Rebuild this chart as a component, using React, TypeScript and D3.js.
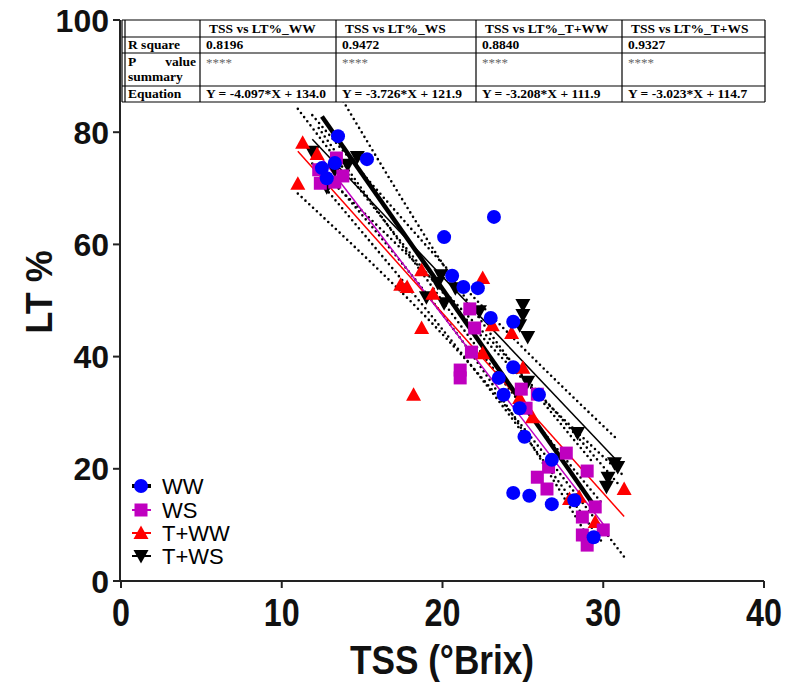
import React from 'react';
import * as d3 from 'd3';

// ---- data ----
const wwX = [13.5, 15.3, 12.5, 13.3, 12.8, 23.2, 20.1, 20.6, 21.3, 22.2, 23.0, 24.4, 24.4, 23.5, 23.8, 26.0, 24.8, 25.1, 26.8, 24.4, 25.4, 26.8, 28.2, 29.4];
const wwY = [79.3, 75.2, 73.6, 74.5, 71.8, 64.9, 61.3, 54.4, 52.4, 52.2, 46.9, 46.2, 38.1, 36.2, 33.2, 33.2, 30.8, 25.7, 21.6, 15.7, 15.2, 13.7, 14.4, 7.8];
const wsX = [13.4, 12.3, 13.8, 12.4, 13.3, 21.7, 22.0, 21.8, 21.1, 21.1, 24.9, 25.9, 25.2, 27.7, 26.6, 29.0, 25.9, 26.5, 29.5, 28.7, 30.0, 28.7, 29.0];
const wsY = [75.4, 73.3, 72.2, 70.9, 71.1, 48.5, 45.1, 40.8, 37.6, 36.2, 34.2, 33.3, 30.8, 22.8, 20.3, 19.6, 18.5, 16.4, 13.2, 11.4, 9.1, 8.2, 6.4];
const twwX = [11.3, 12.2, 11.0, 18.7, 17.4, 17.8, 19.4, 22.5, 18.7, 18.2, 23.1, 24.3, 22.5, 25.0, 24.8, 25.6, 27.9, 28.5, 29.5, 31.3];
const twwY = [78.1, 76.1, 70.8, 55.4, 52.8, 52.4, 51.2, 54.0, 45.1, 33.2, 45.6, 44.2, 40.6, 38.0, 32.6, 29.2, 14.6, 15.0, 10.5, 16.4];
const twsX = [11.9, 14.7, 14.1, 13.3, 12.8, 19.9, 19.7, 20.8, 19.0, 20.1, 22.3, 25.0, 25.0, 24.8, 25.3, 25.3, 28.4, 30.7, 30.9, 30.3, 30.2];
const twsY = [76.5, 75.6, 74.2, 73.3, 70.2, 54.5, 53.1, 52.2, 50.6, 49.5, 48.1, 49.2, 47.4, 45.6, 43.5, 35.5, 26.4, 21.0, 20.3, 18.4, 16.8];

const seriesNames = ['WW', 'WS', 'T+WW', 'T+WS'];
const slopes = [-4.097, -3.726, -3.208, -3.023];
const intercepts = [134.0, 121.9, 111.9, 114.7];
const rSquares = ['0.8196', '0.9472', '0.8840', '0.9327'];
const pSummaries = ['****', '****', '****', '****'];
const equations = ['Y = -4.097*X + 134.0', 'Y = -3.726*X + 121.9', 'Y = -3.208*X + 111.9', 'Y = -3.023*X + 114.7'];
const tableHeaders = ['TSS vs LT%_WW', 'TSS vs LT%_WS', 'TSS vs LT%_T+WW', 'TSS vs LT%_T+WS'];

const xTicks = [0, 10, 20, 30, 40];
const yTicks = [0, 20, 40, 60, 80, 100];

const xs = [wwX, wsX, twwX, twsX];
const ys = [wwY, wsY, twwY, twsY];
const colors = ['#0000FF', '#BF00BF', '#FF0000', '#000000'];
const lineColors = ['#000000', '#BF00BF', '#FF0000', '#000000'];
const lineWidths = [4.5, 1.5, 1.5, 1.5];

const W = 787, H = 682;
const x = d3.scaleLinear().domain([0, 40]).range([121, 764]);
const y = d3.scaleLinear().domain([0, 100]).range([581, 20]);

function marker(i: number, cx: number, cy: number, key: any) {
  if (i === 0) return <circle key={key} cx={cx} cy={cy} r={7} fill={colors[0]} />;
  if (i === 1) return <rect key={key} x={cx - 6.5} y={cy - 6.5} width={13} height={13} fill={colors[1]} />;
  if (i === 2) {
    const s = 7.5;
    return <path key={key} d={`M${cx},${cy - s}L${cx + s},${cy + s * 0.8}L${cx - s},${cy + s * 0.8}Z`} fill={colors[2]} />;
  }
  const s = 7.5;
  return <path key={key} d={`M${cx},${cy + s}L${cx + s},${cy - s * 0.8}L${cx - s},${cy - s * 0.8}Z`} fill={colors[3]} />;
}

function bands(i: number) {
  const X = xs[i], Y = ys[i];
  const n = X.length;
  const m = d3.mean(X) as number;
  const sxx = d3.sum(X, (v) => (v - m) * (v - m));
  const ssr = d3.sum(X, (v, k) => {
    const r = Y[k] - (slopes[i] * v + intercepts[i]);
    return r * r;
  });
  const s = Math.sqrt(ssr / (n - 2));
  const t = 2.07;
  const [x0, x1] = d3.extent(X) as [number, number];
  const pts = d3.range(0, 41).map((k) => x0 + ((x1 - x0) * k) / 40);
  const half = (v: number) => t * s * Math.sqrt(1 / n + ((v - m) * (v - m)) / sxx);
  const up = d3.line<number>().x((v) => x(v)).y((v) => y(slopes[i] * v + intercepts[i] + half(v)))(pts);
  const lo = d3.line<number>().x((v) => x(v)).y((v) => y(slopes[i] * v + intercepts[i] - half(v)))(pts);
  return { up, lo, x0, x1 };
}

export default function App() {
  const colEdges = [122, 200, 336, 476, 622, 765];
  const rowEdges = [20, 37, 53, 86, 102];
  const serif = '"Liberation Serif", "Times New Roman", serif';
  const sans = '"Liberation Sans", Arial, sans-serif';
  const drawOrder = [3, 2, 1, 0];
  return (
    <svg width={W} height={H} style={{ position: 'absolute', left: 0, top: 0, background: '#fff' }}>
      <rect width={W} height={H} fill="#fff" />
      {/* regression bands */}
      {[0, 1, 2, 3].map((i) => {
        const b = bands(i);
        return (
          <g key={'b' + i}>
            <path d={b.up as string} fill="none" stroke="#000" strokeWidth={2.6} strokeDasharray="0,5.2" strokeLinecap="round" />
            <path d={b.lo as string} fill="none" stroke="#000" strokeWidth={2.6} strokeDasharray="0,5.2" strokeLinecap="round" />
          </g>
        );
      })}
      {[3, 2, 1, 0].map((i) => {
        const b = bands(i);
        return (
          <line key={'l' + i} x1={x(b.x0)} y1={y(slopes[i] * b.x0 + intercepts[i])} x2={x(b.x1)} y2={y(slopes[i] * b.x1 + intercepts[i])}
            stroke={lineColors[i]} strokeWidth={lineWidths[i]} />
        );
      })}
      {/* points */}
      {drawOrder.map((i) => (
        <g key={'p' + i}>{xs[i].map((v, k) => marker(i, x(v), y(ys[i][k]), k))}</g>
      ))}
      {/* axes */}
      <line x1={120} y1={y(100)} x2={120} y2={582} stroke="#222" strokeWidth={2} />
      <line x1={119} y1={581} x2={x(40)} y2={581} stroke="#222" strokeWidth={2} />
      {yTicks.map((t) => (
        <g key={'yt' + t}>
          <line x1={113} x2={120} y1={y(t)} y2={y(t)} stroke="#222" strokeWidth={2} />
          <text x={109} y={y(t)} dy="0.36em" textAnchor="end" fontFamily={sans} fontWeight="bold" fontSize={32} fill="#111">{t}</text>
        </g>
      ))}
      {xTicks.map((t) => (
        <g key={'xt' + t}>
          <line x1={x(t)} x2={x(t)} y1={581} y2={588} stroke="#222" strokeWidth={2} />
          <text transform={`translate(${x(t)},626) scale(0.85,1)`} textAnchor="middle" fontFamily={sans} fontWeight="bold" fontSize={38} fill="#111">{t}</text>
        </g>
      ))}
      <text transform="translate(442,674) scale(0.88,1)" textAnchor="middle" fontFamily={sans} fontWeight="bold" fontSize={40} fill="#111">TSS (°Brix)</text>
      <text transform="translate(52,292) rotate(-90)" textAnchor="middle" fontFamily={sans} fontWeight="bold" fontSize={36} fill="#111">LT %</text>
      {/* legend */}
      {seriesNames.map((nm, i) => {
        const ly = [486, 510, 533, 556][i];
        return (
          <g key={'lg' + i}>
            <line x1={132} x2={151} y1={ly} y2={ly} stroke={lineColors[i]} strokeWidth={i === 0 ? 4 : 2} />
            {marker(i, 141, ly, 'm')}
            <text x={162} y={ly} dy="0.36em" fontFamily={sans} fontSize={22} fill="#000">{nm}</text>
          </g>
        );
      })}
      {/* table */}
      <g>
        <rect x={colEdges[0]} y={rowEdges[0]} width={colEdges[5] - colEdges[0]} height={rowEdges[4] - rowEdges[0]} fill="#fff" />
        {rowEdges.map((ry, k) => (
          <line key={'tr' + k} x1={colEdges[0]} x2={colEdges[5]} y1={ry} y2={ry} stroke="#000" strokeWidth={1.2} />
        ))}
        {colEdges.map((cx, k) => (
          <line key={'tc' + k} x1={cx} x2={cx} y1={rowEdges[0]} y2={rowEdges[4]} stroke="#000" strokeWidth={1.2} />
        ))}
        <line x1={125} x2={125} y1={rowEdges[0]} y2={rowEdges[4]} stroke="#000" strokeWidth={1.2} />
        <g fontFamily={serif} fontWeight="bold" fontSize={13.5} fill="#000">
          <text x={128} y={49}>R square</text>
          <text x={128} y={66}>P</text>
          <text x={196} y={66} textAnchor="end">value</text>
          <text x={128} y={81}>summary</text>
          <text x={128} y={98}>Equation</text>
          {tableHeaders.map((h, k) => (
            <text key={'h' + k} x={colEdges[k + 1] + 9} y={33}>{h}</text>
          ))}
          {rSquares.map((h, k) => (
            <text key={'r' + k} x={colEdges[k + 1] + 6} y={49}>{h}</text>
          ))}
          {equations.map((h, k) => (
            <text key={'e' + k} x={colEdges[k + 1] + 6} y={98}>{h}</text>
          ))}
        </g>
        {pSummaries.map((h, k) => (
          <text key={'p' + k} x={colEdges[k + 1] + 6} y={67} fontFamily={serif} fontSize={13} fill="#666">{h}</text>
        ))}
      </g>
    </svg>
  );
}
